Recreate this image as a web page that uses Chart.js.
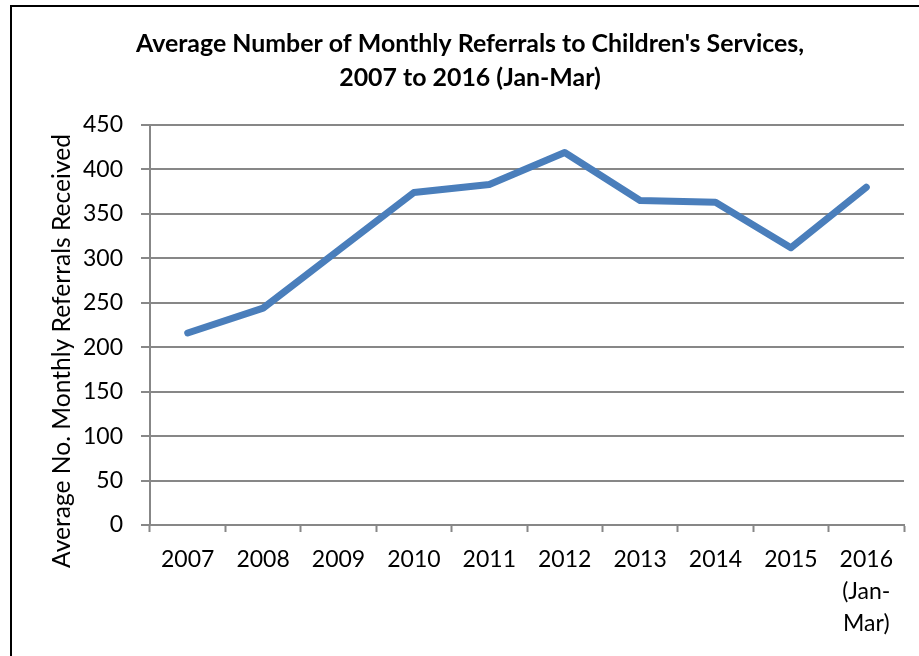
<!DOCTYPE html>
<html>
<head>
<meta charset="utf-8">
<script src="https://cdn.jsdelivr.net/npm/chart.js@4.4.1/dist/chart.umd.min.js"></script>
<style>
  html, body { margin: 0; padding: 0; background: #fff; }
  #wrap { position: relative; width: 919px; height: 656px; overflow: hidden; background: #fff; }
  #frame { position: absolute; left: 10px; top: 5px; width: 1000px; height: 1000px; border: 2px solid #000; box-sizing: border-box; }
  canvas { position: absolute; left: 0; top: 0; }
</style>
</head>
<body>
<div id="wrap">
  <div id="frame"></div>
  <canvas id="c" width="919" height="656"></canvas>
</div>
<script>
const categories = ['2007', '2008', '2009', '2010', '2011', '2012', '2013', '2014', '2015', ['2016', '(Jan-', 'Mar)']];
const referrals = [216, 244, 309, 374, 383, 419, 365, 363, 312, 380];
const yTicks = [0, 50, 100, 150, 200, 250, 300, 350, 400, 450];
const titleLines = ["Average Number of Monthly Referrals to Children's Services,", '2007 to 2016 (Jan-Mar)'];
const yTitle = 'Average No. Monthly Referrals Received';

const FONT = 'Lato';
const GRID = '#878787';

const yTitlePlugin = {
  id: 'yTitle',
  afterDraw(chart) {
    const ctx = chart.ctx;
    ctx.save();
    ctx.translate(62, 351);
    ctx.rotate(-Math.PI / 2);
    ctx.font = '24.6px ' + FONT;
    ctx.fillStyle = '#000';
    ctx.textAlign = 'center';
    ctx.textBaseline = 'middle';
    ctx.fillText(yTitle, 0, 0);
    ctx.restore();
  }
};

new Chart(document.getElementById('c'), {
  type: 'line',
  data: {
    labels: categories,
    datasets: [{
      data: referrals,
      borderColor: '#4A7EBB',
      backgroundColor: '#4A7EBB',
      borderWidth: 7,
      pointRadius: 0,
      pointHoverRadius: 0,
      tension: 0,
      borderCapStyle: 'round',
      borderJoinStyle: 'round',
      fill: false
    }]
  },
  options: {
    responsive: false,
    animation: false,
    devicePixelRatio: 1,
    layout: { padding: { left: 36, right: 15, top: 0, bottom: 0 } },
    plugins: {
      legend: { display: false },
      tooltip: { enabled: false },
      title: {
        display: true,
        text: titleLines,
        color: '#000',
        font: { family: FONT, size: 24.9, weight: 'bold', lineHeight: '34px' },
        padding: { top: 27, bottom: 30 }
      }
    },
    scales: {
      x: {
        type: 'category',
        offset: true,
        afterFit(scale) { scale.height = 131; },
        grid: {
          display: true,
          offset: true,
          drawOnChartArea: false,
          drawTicks: true,
          tickLength: 7,
          tickWidth: 2,
          tickColor: GRID,
          color: GRID
        },
        border: { display: true, color: GRID, width: 2 },
        ticks: {
          color: '#000',
          font: { family: FONT, size: 23, lineHeight: '32px' },
          padding: 12,
          maxRotation: 0,
          autoSkip: false
        }
      },
      y: {
        min: 0,
        max: 450,
        afterFit(scale) { scale.width = 114; },
        afterBuildTicks(scale) { scale.ticks = yTicks.map(v => ({ value: v })); },
        grid: {
          color: GRID,
          lineWidth: 2,
          drawTicks: true,
          tickLength: 9,
          tickColor: GRID,
          tickWidth: 2
        },
        border: { display: true, color: GRID, width: 2 },
        ticks: {
          color: '#000',
          font: { family: FONT, size: 23 },
          padding: 18
        }
      }
    }
  },
  plugins: [yTitlePlugin]
});
</script>
</body>
</html>
